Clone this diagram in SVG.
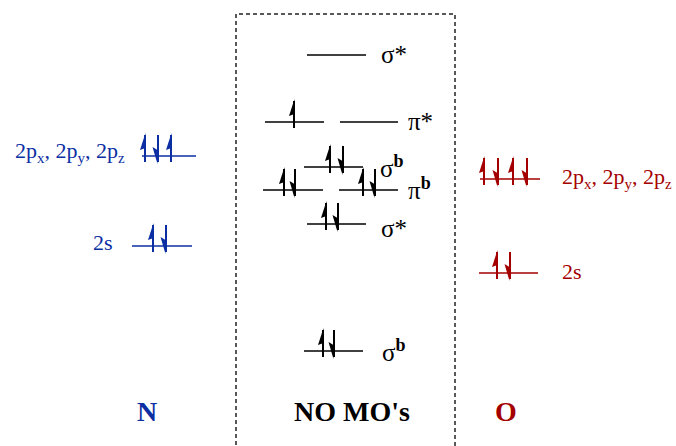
<svg xmlns="http://www.w3.org/2000/svg" width="676" height="446" viewBox="0 0 676 446">
<defs>
<style>
.lvl{stroke-width:1.6;fill:none}
.k{stroke:#000;fill:#000;color:#000}
.bl{stroke:#0b2fa3;fill:#0b2fa3;color:#0b2fa3}
.rd{stroke:#a50000;fill:#a50000;color:#a50000}
text{font-family:"Liberation Serif","Times New Roman",serif;stroke:none}
.lab{font-size:22px}
.mo{font-size:25px;fill:#000}
.big{font-size:28px;font-weight:bold;text-anchor:middle}
</style>
<g id="up"><line x1="0" y1="-21" x2="0" y2="6" stroke="currentColor" stroke-width="2"/><polygon points="0.5,-23 -5,-6 0.5,-8" fill="currentColor" stroke="none"/></g>
<g id="dn"><line x1="0" y1="-21" x2="0" y2="6" stroke="currentColor" stroke-width="2"/><polygon points="-0.5,8 -5.5,-9 -0.5,-6" fill="currentColor" stroke="none"/></g>
</defs>
<rect width="676" height="446" fill="#fff"/>
<g id="box"><path d="M236,452 V14 H455 V452" fill="none" stroke="#222" stroke-width="1.5" stroke-dasharray="4,3"/></g>

<g id="N-2p" class="bl">
<line class="lvl" x1="142" y1="156" x2="196" y2="156"/>
<use href="#up" x="145" y="156"/><use href="#dn" x="158" y="156"/><use href="#up" x="171" y="156"/>
<text class="lab" x="15" y="158">2p<tspan font-size="15" dy="5">x</tspan><tspan dy="-5">, 2p</tspan><tspan font-size="15" dy="5">y</tspan><tspan dy="-5">, 2p</tspan><tspan font-size="15" dy="5">z</tspan></text>
</g>
<g id="N-2s" class="bl">
<line class="lvl" x1="132" y1="246" x2="192" y2="246"/>
<use href="#up" x="153" y="246"/><use href="#dn" x="166" y="246"/>
<text class="lab" x="93" y="250">2s</text>
</g>

<g id="O-2p" class="rd">
<line class="lvl" x1="480" y1="179" x2="540" y2="179"/>
<use href="#up" x="484" y="179"/><use href="#dn" x="498" y="179"/><use href="#up" x="513" y="179"/><use href="#dn" x="527" y="179"/>
<text class="lab" x="562" y="184">2p<tspan font-size="15" dy="5">x</tspan><tspan dy="-5">, 2p</tspan><tspan font-size="15" dy="5">y</tspan><tspan dy="-5">, 2p</tspan><tspan font-size="15" dy="5">z</tspan></text>
</g>
<g id="O-2s" class="rd">
<line class="lvl" x1="479" y1="273" x2="538" y2="273"/>
<use href="#up" x="497" y="273"/><use href="#dn" x="510" y="273"/>
<text class="lab" x="562" y="279">2s</text>
</g>

<g id="MO-sigma-star-top" class="k">
<line class="lvl" x1="307" y1="55" x2="366" y2="55"/>
<text class="mo" x="381" y="63">σ*</text>
</g>
<g id="MO-pi-star" class="k">
<line class="lvl" x1="265" y1="122" x2="324" y2="122"/>
<line class="lvl" x1="340" y1="122" x2="398" y2="122"/>
<use href="#up" x="294" y="122"/>
<text class="mo" x="408" y="130">π*</text>
</g>
<g id="MO-sigma-b-2p" class="k">
<line class="lvl" x1="304" y1="167" x2="363" y2="167"/>
<use href="#up" x="330" y="167"/><use href="#dn" x="343" y="167"/>
<text class="mo" x="380" y="177">σ<tspan font-size="18" font-weight="bold" dy="-10">b</tspan></text>
</g>
<g id="MO-pi-b" class="k">
<line class="lvl" x1="263" y1="190" x2="323" y2="190"/>
<line class="lvl" x1="339" y1="190" x2="398" y2="190"/>
<use href="#up" x="284" y="190"/><use href="#dn" x="295" y="190"/>
<use href="#up" x="363" y="190"/><use href="#dn" x="375" y="190"/>
<text class="mo" x="408" y="199">π<tspan font-size="18" font-weight="bold" dy="-10">b</tspan></text>
</g>
<g id="MO-sigma-star-2s" class="k">
<line class="lvl" x1="307" y1="224" x2="366" y2="224"/>
<use href="#up" x="326" y="224"/><use href="#dn" x="338" y="224"/>
<text class="mo" x="381" y="237">σ*</text>
</g>
<g id="MO-sigma-b-2s" class="k">
<line class="lvl" x1="304" y1="351" x2="363" y2="351"/>
<use href="#up" x="323" y="351"/><use href="#dn" x="334" y="351"/>
<text class="mo" x="382" y="361">σ<tspan font-size="18" font-weight="bold" dy="-10">b</tspan></text>
</g>

<g id="titles">
<text class="big" x="147" y="421" fill="#0b2fa3">N</text>
<text class="big" x="352" y="421" fill="#000">NO MO's</text>
<text class="big" x="506" y="421" fill="#a50000">O</text>
</g>
</svg>
